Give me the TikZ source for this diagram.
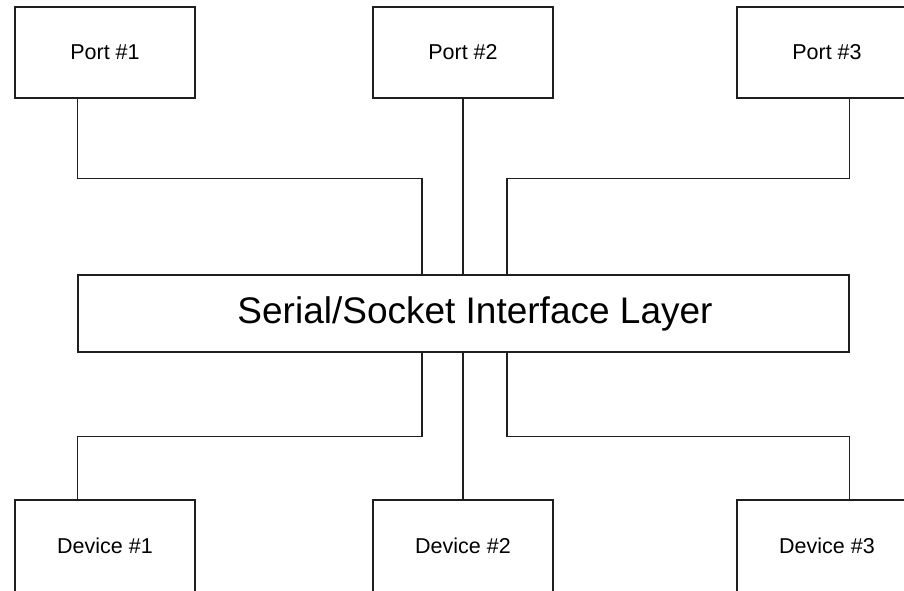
\documentclass[tikz,border=0pt]{standalone}
\usepackage{fontspec}
\setmainfont{Liberation Sans}
\begin{document}
\begin{tikzpicture}[x=1pt,y=-1pt,
  wire/.style={line width=1.3pt, draw=black!88},
  unit/.style={rectangle, draw=black!88, line width=1.3pt, inner sep=0pt,
               minimum width=180pt, minimum height=91pt, font=\fontsize{21.5}{24}\selectfont},
  devunit/.style={unit, minimum height=92pt},
  layerbox/.style={rectangle, draw=black!88, line width=1.3pt, inner sep=0pt,
               minimum width=771pt, minimum height=77pt}]
  \clip (0,0) rectangle (904,590);
  \fill[white] (0,0) rectangle (904,590);

  % ports along the top
  \node[unit] (p1) at (105,52.5) {Port \#1};
  \node[unit] (p2) at (463,52.5) {Port \#2};
  \node[unit] (p3) at (827,52.5) {Port \#3};

  % central interface layer
  \node[layerbox, label={[xshift=11.5pt, font=\fontsize{37}{42}\selectfont]center:Serial/Socket Interface Layer}]
       (layer) at (463.5,313.5) {};

  % devices along the bottom
  \node[devunit] (d1) at (105,546) {Device \#1};
  \node[devunit] (d2) at (463,546) {Device \#2};
  \node[devunit] (d3) at (827,546) {Device \#3};

  % tap points on the layer
  \coordinate (tl) at (422,0);
  \coordinate (tr) at (507,0);

  % port connectors
  \draw[wire] ([xshift=63pt]p1.south west) -- ++(0,80) -| (layer.north -| tl);
  \draw[wire] (p2.south) -- (layer.north -| p2.south);
  \draw[wire] ([xshift=113pt]p3.south west) -- ++(0,80) -| (layer.north -| tr);

  % device connectors
  \draw[wire] (layer.south -| tl) -- ++(0,84) -| ([xshift=63pt]d1.north west);
  \draw[wire] (layer.south -| d2.north) -- (d2.north);
  \draw[wire] (layer.south -| tr) -- ++(0,84) -| ([xshift=113pt]d3.north west);
\end{tikzpicture}
\end{document}
